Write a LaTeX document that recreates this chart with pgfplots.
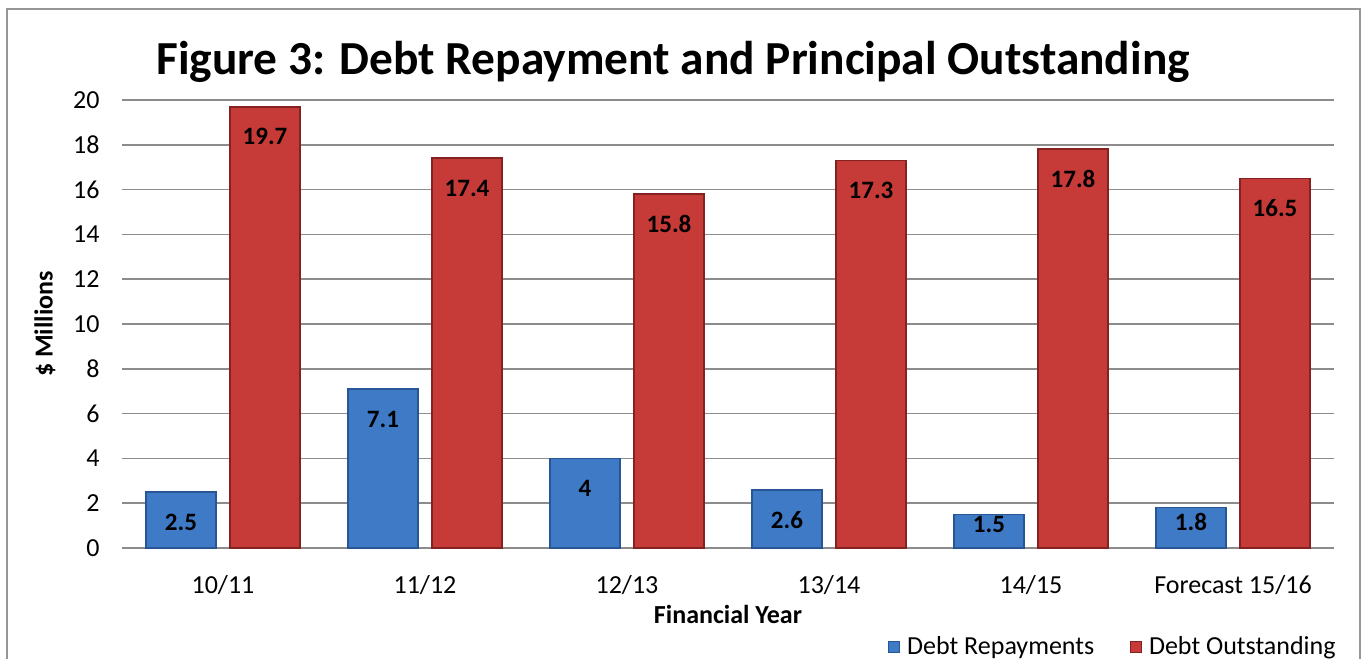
\documentclass[border=0pt]{standalone}
\usepackage{pgfplots}
\pgfplotsset{compat=1.18}
\usepackage{pgfplotstable}
\usepackage{fontspec}
\setmainfont{Carlito}
\definecolor{barblue}{RGB}{62,122,198}
\definecolor{edgeblue}{RGB}{40,86,148}
\definecolor{barred}{RGB}{198,58,56}
\definecolor{edgered}{RGB}{132,34,34}
\definecolor{gridgray}{RGB}{140,140,140}
\definecolor{framegray}{RGB}{150,150,150}

\pgfplotstableread{
x v ly
0 2.5 1.16
1 7.1 5.76
2 4 2.66
3 2.6 1.26
4 1.5 1.03
5 1.8 1.16
}\repay
\pgfplotstableread{
x v ly
0 19.7 18.36
1 17.4 16.06
2 15.8 14.46
3 17.3 15.96
4 17.8 16.46
5 16.5 15.16
}\outst

\begin{document}
\begin{tikzpicture}
\path[use as bounding box] (-61pt,-55.5pt) rectangle (622.5pt,274pt);
\draw[framegray, line width=1pt] (-57.5pt,-55.5pt) -- (-57.5pt,269.5pt) -- (619pt,269.5pt) -- (619pt,-55.5pt);
\begin{axis}[
  scale only axis, width=606pt, height=224pt,
  at={(0pt,0pt)}, anchor=south west,
  xmin=-0.5, xmax=5.5, ymin=0, ymax=20,
  xtick={0,...,5},
  xticklabels={10/11,11/12,12/13,13/14,14/15,Forecast 15/16},
  ytick={0,2,...,20},
  /pgf/number format/assume math mode=true,
  ymajorgrids, grid style={gridgray, line width=0.75pt},
  axis line style={draw=none},
  major tick length=0pt,
  y tick label style={font=\fontsize{13}{15}\selectfont, anchor=east, inner sep=0pt, xshift=-11pt},
  x tick label style={font=\fontsize{13}{15}\selectfont, anchor=north, inner sep=0pt, yshift=-13.5pt},
  xlabel={Financial Year},
  xlabel style={at={(axis description cs:0.5,0)}, anchor=center, yshift=-33pt, font=\fontsize{13}{15}\selectfont\bfseries},
  ylabel={\$ Millions},
  ylabel style={at={(axis description cs:0,0.5)}, anchor=center, yshift=38.5pt, font=\fontsize{13}{15}\selectfont\bfseries},
  legend style={at={(1,0)}, anchor=east, xshift=6pt, yshift=-49.5pt, draw=none, fill=none,
    legend columns=2, font=\fontsize{13}{15}\selectfont,
    /tikz/every even column/.append style={column sep=16pt},
    /tikz/every odd column/.append style={column sep=1.5pt}},
  legend image code/.code={\draw[#1,/tikz/.cd,line width=0.4pt] (0pt,-2.75pt) rectangle (5.5pt,2.75pt);},
  every node near coord/.style={anchor=center, inner sep=0pt, font=\fontsize{12.5}{14}\selectfont\bfseries, text=black},
]
\addplot[ybar, bar width=0.347, bar shift=-0.208, fill=barblue, draw=edgeblue, line width=0.8pt] table[x=x,y=v]{\repay};
\addlegendentry{Debt Repayments}
\addplot[ybar, bar width=0.347, bar shift=0.208, fill=barred, draw=edgered, line width=0.8pt] table[x=x,y=v]{\outst};
\addlegendentry{Debt Outstanding}
\addplot[draw=none, mark=none, nodes near coords, point meta=explicit, forget plot] table[x expr=\thisrow{x}-0.208, y=ly, meta=v]{\repay};
\addplot[draw=none, mark=none, nodes near coords, point meta=explicit, forget plot] table[x expr=\thisrow{x}+0.208, y=ly, meta=v]{\outst};
\end{axis}
\node[anchor=base, font=\fontsize{23.7}{28}\selectfont\bfseries] at (275.5pt,236.5pt) {Figure 3: Debt Repayment and Principal Outstanding};
\end{tikzpicture}
\end{document}
